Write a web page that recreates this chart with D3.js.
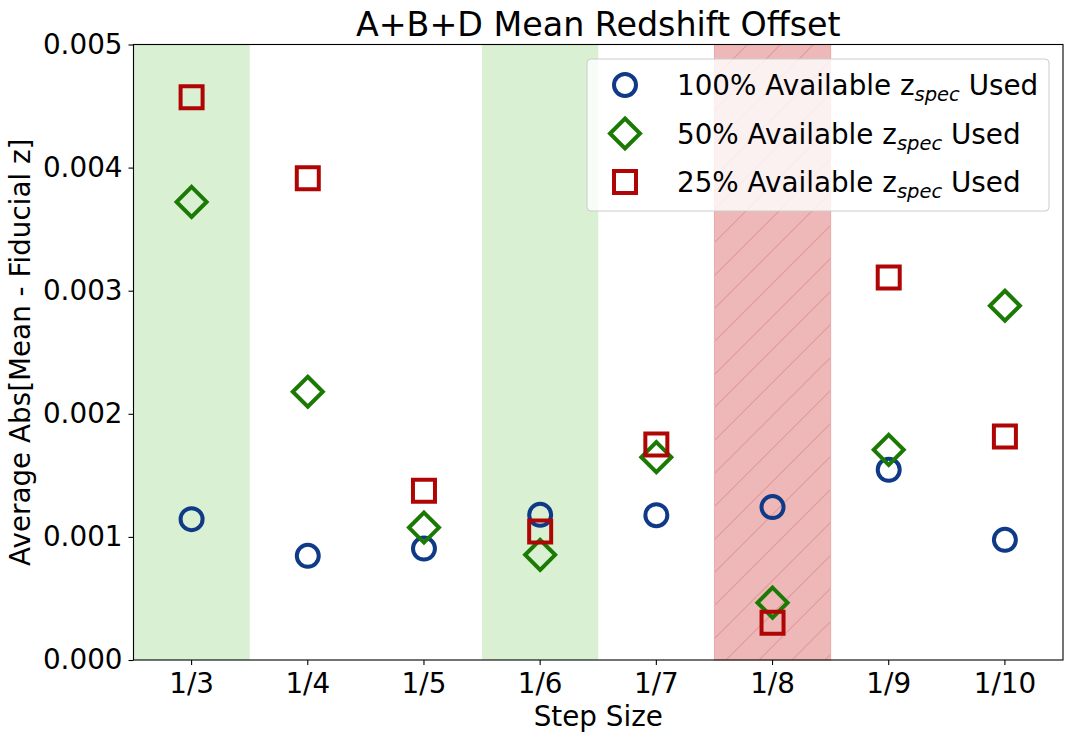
<!DOCTYPE html>
<html>
<head>
<meta charset="utf-8">
<script src="https://d3js.org/d3.v7.min.js"></script>
<style>
  body { margin: 0; background: #fff; }
  text { font-family: "DejaVu Sans", sans-serif; }
</style>
</head>
<body>
<div class="chart"></div>
<script>
// step sizes on the x axis
const steps = ["1/3", "1/4", "1/5", "1/6", "1/7", "1/8", "1/9", "1/10"];

// Average Abs[Mean - Fiducial z] per step size
const full = [0.001144, 0.000846, 0.000905, 0.001179, 0.001176, 0.001242, 0.001545, 0.000976];
const half = [0.003721, 0.002179, 0.001076, 0.000854, 0.001648, 0.000466, 0.001707, 0.002878];
const quarter = [0.004572, 0.003913, 0.001374, 0.001043, 0.001750, 0.000303, 0.003108, 0.001815];

const yTicks = [0, 0.001, 0.002, 0.003, 0.004, 0.005];

// shaded step sizes
const greenSteps = ["1/3", "1/6"];
const redSteps = ["1/8"];

const seriesNames = ["100% Available", "50% Available", "25% Available"];

var cfg = {
  width: 1076,
  height: 741,
  left: 133.5,
  right: 1063,
  top: 44.5,
  bottom: 660,
  font: 27.8
};

var colors = {
  blue: "#0e3a87",
  green: "#1b7a03",
  red: "#b00505",
  greenBand: "#d9f0d3",
  redBand: "#eeb8b8",
  hatch: "#e29b9b"
};

var scale = {
  x: d3.scaleBand().domain(steps).range([cfg.left, cfg.right]).padding(0),
  y: d3.scaleLinear().domain([0, 0.005]).range([cfg.bottom, cfg.top])
};

function markerPath(kind){
  if(kind === "circle") return d3.symbol().type(d3.symbolCircle).size(Math.PI * 11 * 11)();
  if(kind === "square") return "M-11,-11H11V11H-11Z";
  return "M0,-15L15,0L0,15L-15,0Z";
}

var series = [
  { name: seriesNames[0], values: full, kind: "circle", color: colors.blue },
  { name: seriesNames[1], values: half, kind: "diamond", color: colors.green },
  { name: seriesNames[2], values: quarter, kind: "square", color: colors.red }
];

function initBands(svg){
  var defs = svg.append("defs");
  var pat = defs.append("pattern")
    .attr("id", "hatch")
    .attr("patternUnits", "userSpaceOnUse")
    .attr("width", 33)
    .attr("height", 33);
  pat.append("rect").attr("width", 33).attr("height", 33).attr("fill", colors.redBand);
  pat.append("path")
    .attr("d", "M0,33L33,0M-8,8L8,-8M25,41L41,25")
    .attr("stroke", colors.hatch)
    .attr("stroke-width", 1.2);

  svg.append("g").selectAll("rect")
    .data(greenSteps)
    .enter().append("rect")
    .attr("x", d => scale.x(d))
    .attr("y", cfg.top)
    .attr("width", scale.x.bandwidth())
    .attr("height", cfg.bottom - cfg.top)
    .attr("fill", colors.greenBand);

  svg.append("g").selectAll("rect")
    .data(redSteps)
    .enter().append("rect")
    .attr("x", d => scale.x(d))
    .attr("y", cfg.top)
    .attr("width", scale.x.bandwidth())
    .attr("height", cfg.bottom - cfg.top)
    .attr("fill", "url(#hatch)")
    .attr("stroke", "#e9a9a9")
    .attr("stroke-width", 1);
}

function initAxis(svg){
  var xAxis = svg.append("g")
    .attr("transform", `translate(0,${cfg.bottom})`)
    .call(d3.axisBottom(scale.x).tickSizeOuter(0).tickSize(5).tickPadding(8));
  var yAxis = svg.append("g")
    .attr("transform", `translate(${cfg.left},0)`)
    .call(d3.axisLeft(scale.y).tickValues(yTicks).tickFormat(d3.format(".3f")).tickSizeOuter(0).tickSize(5).tickPadding(6));

  [xAxis, yAxis].forEach(g => {
    g.select(".domain").remove();
    g.selectAll("line").attr("stroke", "#000").attr("stroke-width", 1.1);
    g.selectAll("text")
      .attr("fill", "#000")
      .style("font-size", cfg.font + "px")
      .style("font-family", "DejaVu Sans");
  });

  // frame
  svg.append("rect")
    .attr("x", cfg.left)
    .attr("y", cfg.top)
    .attr("width", cfg.right - cfg.left)
    .attr("height", cfg.bottom - cfg.top)
    .attr("fill", "none")
    .attr("stroke", "#000")
    .attr("stroke-width", 1.1);

  svg.append("text")
    .attr("x", (cfg.left + cfg.right) / 2)
    .attr("y", 726)
    .attr("text-anchor", "middle")
    .style("font-size", cfg.font + "px")
    .text("Step Size");

  svg.append("text")
    .attr("transform", `translate(30,${(cfg.top + cfg.bottom) / 2}) rotate(-90)`)
    .attr("text-anchor", "middle")
    .style("font-size", cfg.font + "px")
    .text("Average Abs[Mean - Fiducial z]");

  svg.append("text")
    .attr("x", (cfg.left + cfg.right) / 2)
    .attr("y", 36)
    .attr("text-anchor", "middle")
    .style("font-size", "33.3px")
    .text("A+B+D Mean Redshift Offset");
}

function initPoints(svg){
  var cx = d => scale.x(d) + scale.x.bandwidth() / 2;
  series.forEach(s => {
    svg.append("g").selectAll("path")
      .data(s.values)
      .enter().append("path")
      .attr("d", markerPath(s.kind))
      .attr("transform", (d, i) => `translate(${cx(steps[i])},${scale.y(d)})`)
      .attr("fill", "none")
      .attr("stroke", s.color)
      .attr("stroke-width", 4)
      .attr("stroke-linejoin", "miter");
  });
}

function initLegend(svg){
  var lg = svg.append("g").attr("transform", "translate(587,59)");
  lg.append("rect")
    .attr("width", 462)
    .attr("height", 152)
    .attr("rx", 4)
    .attr("fill", "#fff")
    .attr("fill-opacity", 0.8)
    .attr("stroke", "#cccccc")
    .attr("stroke-width", 1);

  var rows = lg.selectAll(".row")
    .data(series)
    .enter().append("g")
    .attr("class", "row")
    .attr("transform", (d, i) => `translate(0,${26 + i * 48.5})`);

  rows.append("path")
    .attr("d", d => markerPath(d.kind))
    .attr("transform", "translate(38,0)")
    .attr("fill", "none")
    .attr("stroke", d => d.color)
    .attr("stroke-width", 4);

  var t = rows.append("text")
    .attr("x", 90)
    .attr("y", 10)
    .style("font-size", cfg.font + "px");
  t.append("tspan").text(d => d.name + " z");
  t.append("tspan")
    .attr("dy", 6)
    .style("font-size", "19.5px")
    .style("font-style", "italic")
    .text("spec");
  t.append("tspan")
    .attr("dy", -6)
    .text(" Used");
}

function createViz(){
  var svg = d3.select(".chart").append("svg")
    .attr("width", cfg.width)
    .attr("height", cfg.height);

  initBands(svg);
  initAxis(svg);
  initPoints(svg);
  initLegend(svg);
}

createViz();
</script>
</body>
</html>
